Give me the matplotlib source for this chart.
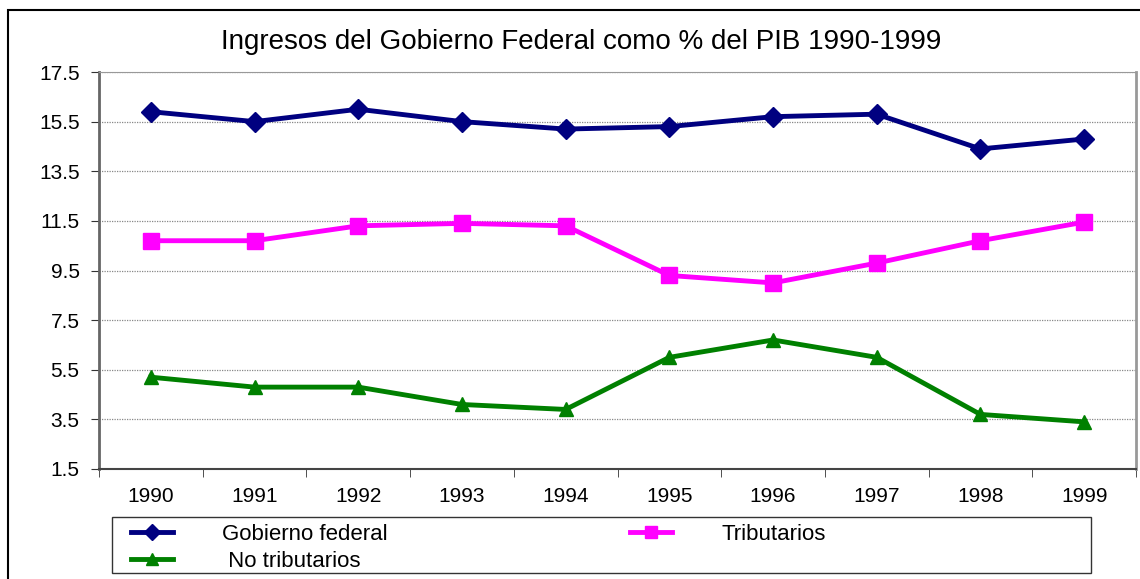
import matplotlib.pyplot as plt
from matplotlib.patches import Rectangle
import numpy as np

plt.rcParams['font.family'] = ['Liberation Sans', 'DejaVu Sans']

# Datos
years = ["1990", "1991", "1992", "1993", "1994", "1995", "1996", "1997", "1998", "1999"]
gobierno = [15.9, 15.5, 16.0, 15.5, 15.2, 15.3, 15.7, 15.8, 14.4, 14.8]
tributarios = [10.7, 10.7, 11.3, 11.4, 11.3, 9.3, 9.0, 9.8, 10.7, 11.45]
no_tributarios = [5.2, 4.8, 4.8, 4.1, 3.9, 6.0, 6.7, 6.0, 3.7, 3.4]
yticks = [1.5, 3.5, 5.5, 7.5, 9.5, 11.5, 13.5, 15.5, 17.5]

W, H = 1140, 579
fig = plt.figure(figsize=(W / 100, H / 100), dpi=100)
ax = fig.add_axes([99 / W, 1 - 469 / H, 1037 / W, 397 / H])

x = np.arange(len(years))
l1, = ax.plot(x, gobierno, color="#000080", lw=3.5, marker="D", ms=10, label="Gobierno federal")
l2, = ax.plot(x, tributarios, color="#FF00FF", lw=3.5, marker="s", ms=11, label="Tributarios")
l3, = ax.plot(x, no_tributarios, color="#008000", lw=3.5, marker="^", ms=10, label=" No tributarios")

ax.set_xlim(-0.5, len(years) - 0.5)
ax.set_ylim(1.5, 17.5)
ax.set_yticks(yticks)
ax.set_yticklabels([f"{v:.1f}" for v in yticks], fontsize=15)
ax.set_xticks(x)
ax.set_xticklabels(years, fontsize=15)
ax.set_xticks(np.arange(-0.5, len(years)), minor=True)
ax.tick_params(axis="x", which="major", length=0, pad=13)
ax.tick_params(axis="x", which="minor", length=6, direction="out", color="#333333")
ax.tick_params(axis="y", length=6, direction="out", color="#333333", pad=8)

ax.yaxis.grid(True, color="#888888", linestyle=(0, (1, 1)), lw=0.9)
ax.set_axisbelow(True)
ax.spines["top"].set_color("#999999")
ax.spines["right"].set_color("#999999")
ax.spines["right"].set_linewidth(2)
ax.spines["left"].set_color("#666666")
ax.spines["left"].set_linewidth(2)
ax.spines["bottom"].set_color("#444444")
ax.spines["bottom"].set_linewidth(1.5)

fig.text(581 / W, 1 - 42 / H, "Ingresos del Gobierno Federal como % del PIB 1990-1999",
         ha="center", va="center", fontsize=20)

# leyenda: orden por filas (Gobierno, Tributarios / No tributarios)
leg = fig.legend([l1, l3, l2], [l1.get_label(), l3.get_label(), l2.get_label()],
                 loc="upper left", bbox_to_anchor=(120 / W, 1 - 513 / H), ncol=2,
                 fontsize=16, frameon=False, handlelength=1.9, handletextpad=2.2,
                 columnspacing=10.9, borderpad=0, labelspacing=0.27, markerscale=0.8)
fig.patches.append(Rectangle((112 / W, 1 - 573 / H), (1091 - 112) / W, (573 - 517) / H,
                             transform=fig.transFigure, fill=False, edgecolor="#333333", lw=1))

# marco exterior de la grafica
fig.patches.append(Rectangle((8 / W, -0.05), 1.2, 1 - 10 / H + 0.05,
                             transform=fig.transFigure, fill=False, edgecolor="black", lw=1.5))

fig.savefig("out.png", dpi=100)
